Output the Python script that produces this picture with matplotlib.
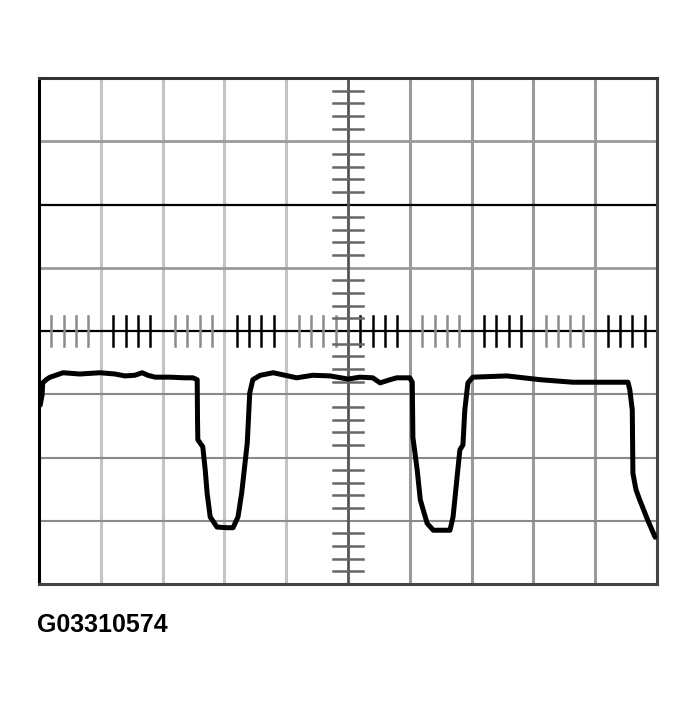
import numpy as np
import matplotlib
matplotlib.use("Agg")
import matplotlib.pyplot as plt

# waveform, in screen divisions (10 across, 8 high, centre = 0)
t_div = [0.02, 0.05, 0.06, 0.13, 0.18, 0.39, 0.66, 0.99, 1.23, 1.39, 1.55, 1.67, 1.76, 1.88,
         2.12, 2.36, 2.49, 2.56, 2.565, 2.57, 2.65, 2.69, 2.72, 2.77, 2.88, 3.04, 3.14, 3.22,
         3.28, 3.33, 3.37, 3.41, 3.46, 3.58, 3.79, 3.98, 4.17, 4.43,
         4.71, 5.00, 5.19, 5.40, 5.52, 5.68, 5.79, 6.00, 6.04, 6.05, 6.12, 6.17, 6.28,
         6.38, 6.65, 6.70, 6.76, 6.81, 6.86, 6.89, 6.94, 7.02, 7.57, 8.11, 8.64, 9.53,
         9.56, 9.60, 9.61, 9.66, 9.72, 9.85, 9.97]
v_div = [-1.17, -1.01, -0.82, -0.76, -0.73, -0.66, -0.68, -0.66, -0.68, -0.71, -0.70, -0.66, -0.70, -0.73,
         -0.73, -0.74, -0.74, -0.77, -1.41, -1.72, -1.83, -2.20, -2.56, -2.94, -3.10, -3.11, -3.11, -2.94,
         -2.56, -2.12, -1.77, -0.98, -0.77, -0.70, -0.66, -0.70, -0.74, -0.70,
         -0.71, -0.76, -0.73, -0.74, -0.82, -0.77, -0.74, -0.74, -0.81, -1.68, -2.20, -2.67, -3.04,
         -3.15, -3.15, -2.94, -2.36, -1.88, -1.80, -1.25, -0.82, -0.73, -0.71, -0.77, -0.81, -0.81,
         -0.93, -1.25, -2.25, -2.51, -2.67, -2.99, -3.26]

label = "G03310574"

fig = plt.figure(figsize=(6.98, 7.07), dpi=100)
ax = fig.add_axes([39 / 698, 1 - 584 / 707, 618 / 698, 506 / 707])
ax.set_xlim(0, 10)
ax.set_ylim(-4, 4)
ax.set_xticks([])
ax.set_yticks([])

# graticule
for x in range(1, 10):
    if x == 5:
        continue
    ax.axvline(x, color="#c4c4c4" if x < 5 else "#9a9a9a", lw=2.2, zorder=1)
for y in [3, 1, -1, -2, -3]:
    ax.axhline(y, color="#9a9a9a" if y > 0 else "#8a8a8a", lw=2.0 if y > 0 else 1.5, zorder=1)
ax.axhline(2, color="black", lw=1.6, zorder=2)
ax.axhline(0, color="black", lw=1.6, zorder=2)
ax.axvline(5, color="#555555", lw=2.0, zorder=2)

# minor ticks on centre axes
for i, x in enumerate(np.arange(0, 10, 0.2)):
    if i % 5 == 0:
        continue
    col = "black" if (i // 5) % 2 == 1 else "#8c8c8c"
    ax.plot([x, x], [-0.23, 0.23], color=col, lw=1.8, zorder=2)
for i, y in enumerate(np.arange(-4, 4, 0.2)):
    if i % 5 == 0:
        continue
    ax.plot([4.76, 5.24], [y, y], color="#666666", lw=1.8, zorder=2)

for side in ["left", "right", "top", "bottom"]:
    ax.spines[side].set_linewidth(2.2)
ax.spines["left"].set_color("black")
ax.spines["top"].set_color("#333333")
ax.spines["right"].set_color("#444444")
ax.spines["bottom"].set_color("#444444")

ax.plot(t_div, v_div, color="black", lw=3.6, solid_joinstyle="round",
        solid_capstyle="round", zorder=5)

fig.text(37 / 698, 1 - 632 / 707, label, fontsize=18, family="Liberation Sans",
         fontweight="bold", ha="left", va="baseline")

fig.savefig("out.png", dpi=100)
